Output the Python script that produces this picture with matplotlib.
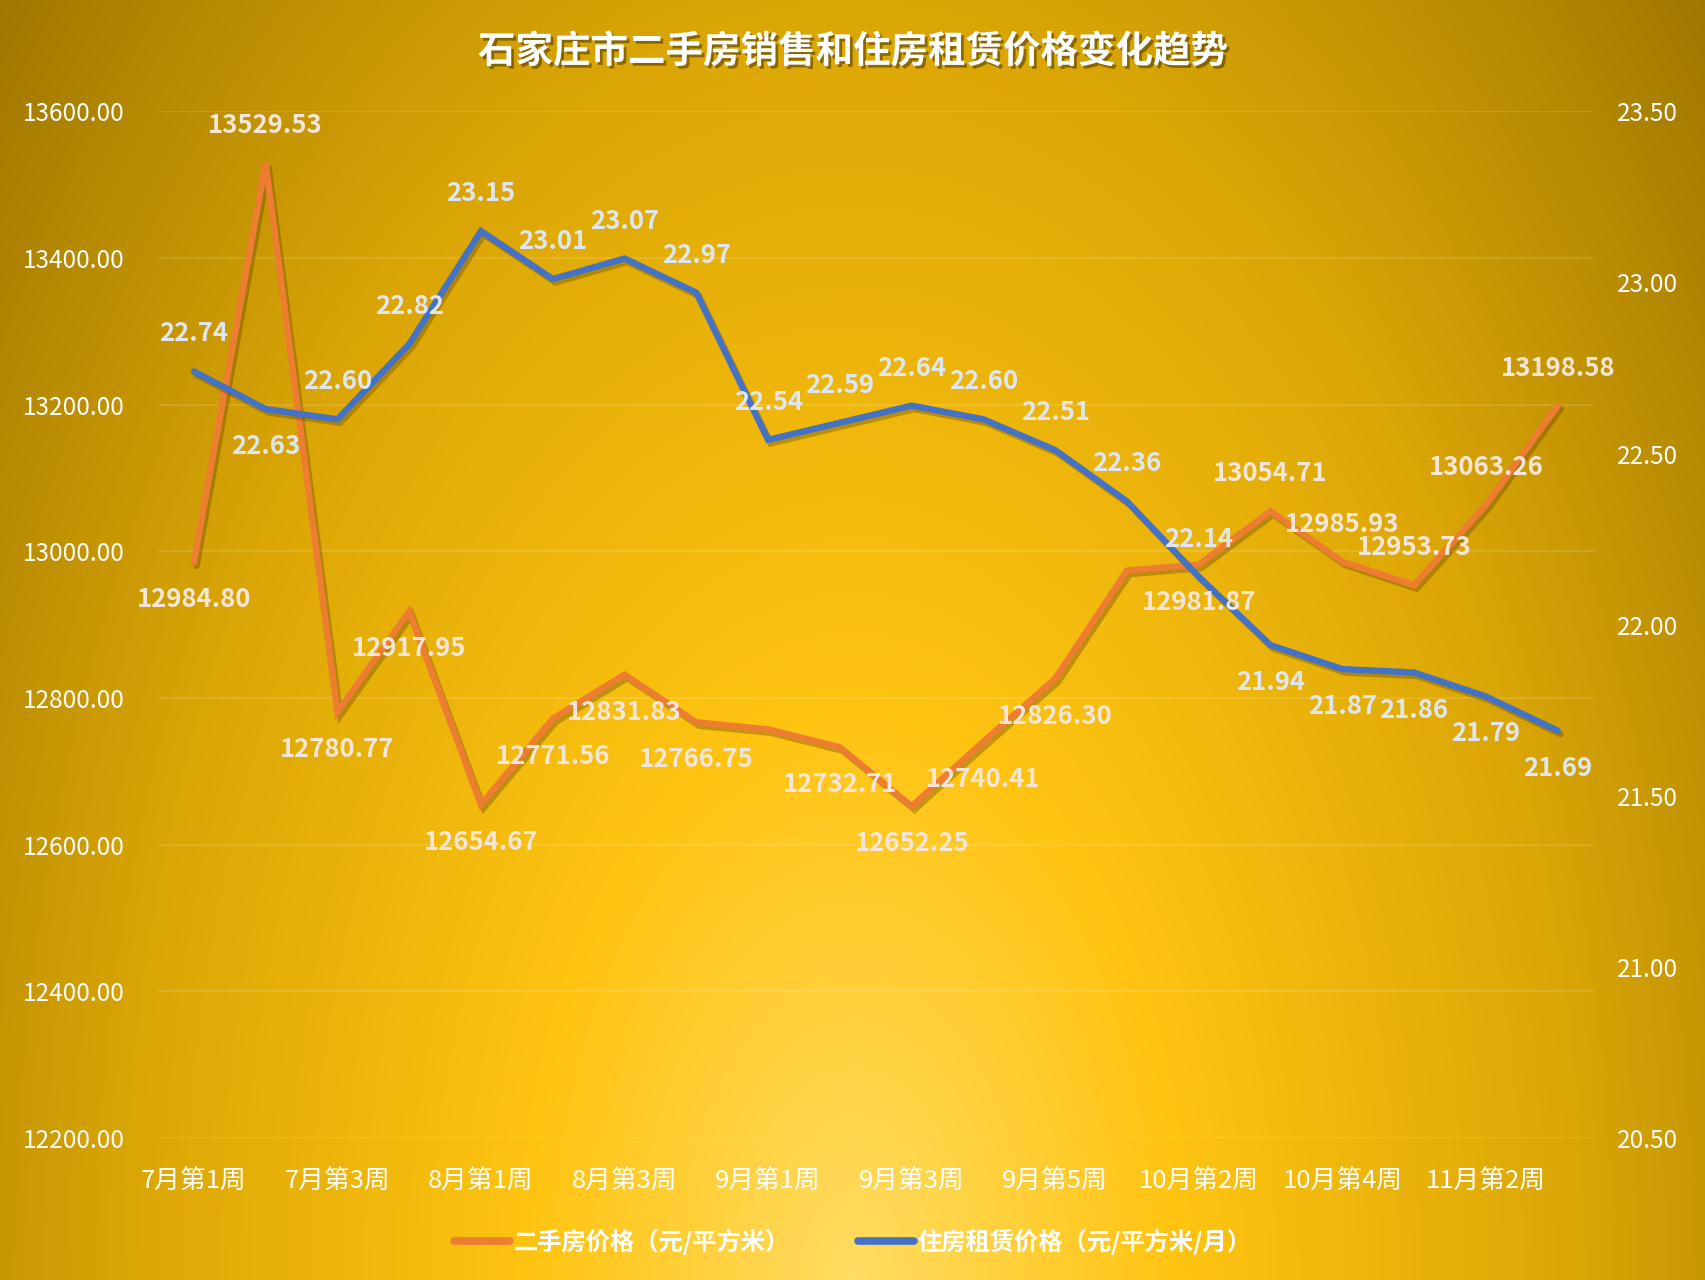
import numpy as np
import matplotlib
matplotlib.use("Agg")
import matplotlib.pyplot as plt
import matplotlib.patheffects as pe
from matplotlib.colors import LinearSegmentedColormap
from matplotlib.ticker import FormatStrFormatter

plt.rcParams['font.family'] = ['Noto Sans CJK SC', 'DejaVu Sans']

weeks = ['7月第1周', '7月第2周', '7月第3周', '7月第4周', '8月第1周', '8月第2周', '8月第3周',
         '8月第4周', '9月第1周', '9月第2周', '9月第3周', '9月第4周', '9月第5周', '10月第1周',
         '10月第2周', '10月第3周', '10月第4周', '11月第1周', '11月第2周', '11月第3周']
sale_price = [12984.80, 13529.53, 12780.77, 12917.95, 12654.67, 12771.56, 12831.83,
              12766.75, 12757.20, 12732.71, 12652.25, 12740.41, 12826.30, 12973.70,
              12981.87, 13054.71, 12985.93, 12953.73, 13063.26, 13198.58]
rent_price = [22.74, 22.63, 22.60, 22.82, 23.15, 23.01, 23.07, 22.97, 22.54, 22.59,
              22.64, 22.60, 22.51, 22.36, 22.14, 21.94, 21.87, 21.86, 21.79, 21.69]
# two sale points have no label in the original
sale_labeled = [True] * 8 + [False] + [True] * 4 + [False] + [True] * 6

# label placement: 'a' above, 'b' below
sale_pos = list('babbbbbbbbbbbbbaaaaa')
rent_pos = ['a', 'b'] + ['a'] * 13 + ['b'] * 5

fig = plt.figure(figsize=(17.06, 12.8), dpi=100)

# radial background, bright at bottom centre
bg = fig.add_axes([0, 0, 1, 1], zorder=0)
h, w = 640, 853
yy, xx = np.mgrid[0:h, 0:w]
r = np.sqrt(((xx - w * 0.5) / (w * 0.5)) ** 2 + ((yy - h) / (h * 1.17)) ** 2)
cmap = LinearSegmentedColormap.from_list('bg', [(0.0, '#FFDC62'), (0.28, '#FFC412'),
                                                (0.62, '#DCA706'), (1.0, '#9C7500')])
bg.imshow(np.clip(r / 1.35, 0, 1), cmap=cmap, aspect='auto', extent=[0, 1, 0, 1],
          origin='upper', vmin=0, vmax=1)
bg.axis('off')

ax = fig.add_axes([0.0926, 0.111, 0.8415, 0.802], zorder=1)
ax.patch.set_alpha(0)
ax2 = ax.twinx()
ax2.set_zorder(2)
ax2.patch.set_alpha(0)

x = np.arange(len(weeks))
shadow = [pe.SimpleLineShadow(offset=(2, -2.5), shadow_color='#5a4300', alpha=0.35), pe.Normal()]
ax.plot(x, sale_price, color='#ED7D31', lw=4.6, solid_capstyle='round',
        solid_joinstyle='miter', path_effects=shadow, zorder=3)
ax2.plot(x, rent_price, color='#4472C4', lw=4.6, solid_capstyle='round',
         solid_joinstyle='miter', path_effects=shadow, zorder=3)

ax.set_xlim(-0.5, len(weeks) - 0.5)
ax.set_ylim(12200, 13600)
ax.set_yticks(np.arange(12200, 13601, 200))
ax.yaxis.set_major_formatter(FormatStrFormatter('%.2f'))
ax2.set_ylim(20.5, 23.5)
ax2.set_yticks(np.arange(20.5, 23.51, 0.5))
ax2.yaxis.set_major_formatter(FormatStrFormatter('%.2f'))
ax.set_xticks(x[::2])
ax.set_xticklabels(weeks[::2])

for a in (ax, ax2):
    for s in a.spines.values():
        s.set_visible(False)
    a.tick_params(length=0, colors='white', labelsize=17.5)
ax.tick_params(axis='x', labelsize=18.5, pad=22)
ax.tick_params(axis='y', pad=24)
ax2.tick_params(axis='y', pad=17)
ax.grid(axis='y', color='#FFFFFF', alpha=0.15, lw=1.2)
ax.set_axisbelow(True)

# all labels on the top axes so they sit above both lines
for i, v in enumerate(sale_price):
    if not sale_labeled[i]:
        continue
    dy = 27 if sale_pos[i] == 'a' else -27
    ax2.annotate(f'{v:.2f}', (i, v), xycoords=ax.transData, xytext=(0, dy),
                 textcoords='offset points', ha='center', va='center', fontsize=18.5,
                 fontweight='bold', color='#F6E6DA', zorder=5)
for i, v in enumerate(rent_price):
    dy = 27 if rent_pos[i] == 'a' else -27
    ax2.annotate(f'{v:.2f}', (i, v), xytext=(0, dy), textcoords='offset points',
                 ha='center', va='center', fontsize=18.5, fontweight='bold',
                 color='#DEE6F2', zorder=5)

fig.text(0.5, 0.96, '石家庄市二手房销售和住房租赁价格变化趋势', ha='center', va='center',
         fontsize=27, fontweight='bold', color='white',
         path_effects=[pe.withSimplePatchShadow(offset=(2, -2), shadow_rgbFace='#3a2a00', alpha=0.5)])

h1 = plt.Line2D([], [], color='#ED7D31', lw=5.5, solid_capstyle='round')
h2 = plt.Line2D([], [], color='#4472C4', lw=5.5, solid_capstyle='round')
fig.legend([h1, h2], ['二手房价格（元/平方米）', '住房租赁价格（元/平方米/月）'],
           loc='center', bbox_to_anchor=(0.5, 0.030), ncol=2, frameon=False,
           handlelength=2.3, columnspacing=2.8, handletextpad=0.15,
           prop={'size': 17.5, 'weight': 'bold'}, labelcolor='white')

fig.savefig('out.png', dpi=100)
